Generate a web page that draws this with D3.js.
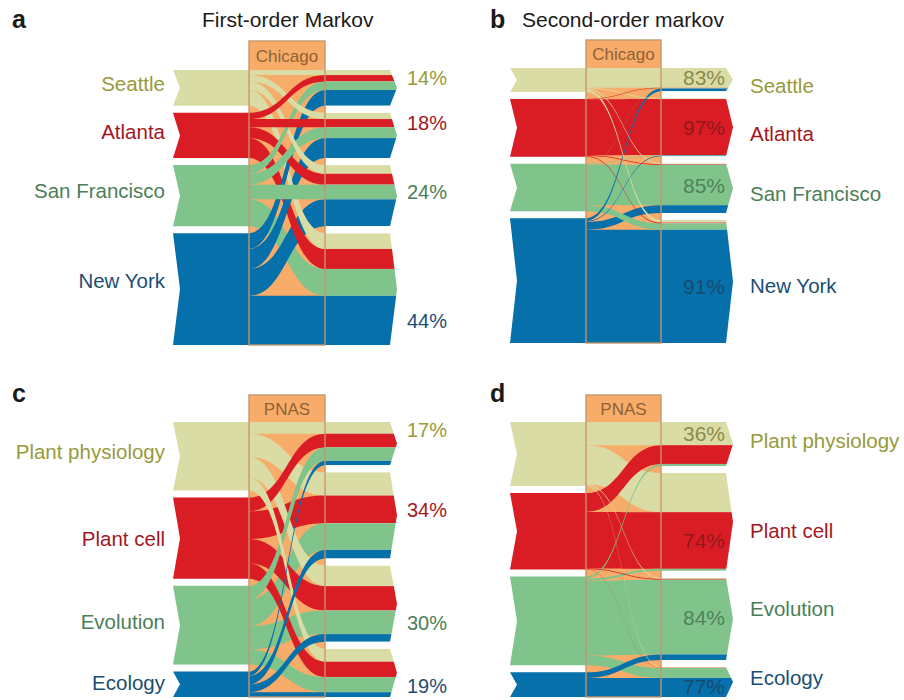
<!DOCTYPE html>
<html><head><meta charset="utf-8">
<script src="https://cdn.jsdelivr.net/npm/d3@7"></script>
<style>
body{margin:0;background:#fff}
svg{display:block;font-family:"Liberation Sans",Arial,Helvetica,sans-serif}
</style>
</head><body>
<svg id="chart" width="904" height="700"></svg>
<script>
// ---------------- DATA ----------------
const cityNames = ["Seattle", "Atlanta", "San Francisco", "New York"];
const journalNames = ["Plant physiology", "Plant cell", "Evolution", "Ecology"];
const hubCity = "Chicago";
const hubJournal = "PNAS";

// flow shares (% of all paths through the hub); rows = previous node, cols = next node
const flowsFirstCity = [
  [2.0, 2.5, 3.4, 6.2],
  [2.5, 3.2, 4.3, 7.9],
  [3.4, 4.3, 5.8, 10.6],
  [6.2, 7.9, 10.6, 19.4]
];
const flowsSecondCity = [
  [7.8, 0.3, 0.3, 1.0],
  [0.15, 22.0, 0.25, 0.3],
  [0.1, 0.2, 15.9, 2.5],
  [1.1, 0.3, 3.1, 44.5]
];
const flowsFirstJournal = [
  [4.6, 9.2, 8.1, 5.1],
  [5.4, 10.9, 9.6, 6.1],
  [5.3, 10.5, 9.3, 5.9],
  [1.7, 3.4, 3.0, 1.9]
];
const flowsSecondJournal = [
  [9.1, 15.4, 0.4, 0.3],
  [7.4, 22.3, 0.3, 0.1],
  [0.8, 0.8, 29.4, 3.9],
  [0.0, 0.0, 2.2, 7.5]
];
const returnLabelsA = ["14%", "18%", "24%", "44%"];
const returnLabelsB = ["83%", "97%", "85%", "91%"];
const returnLabelsC = ["17%", "34%", "30%", "19%"];
const returnLabelsD = ["36%", "74%", "84%", "77%"];

// ---------------- STYLE ----------------
const fillColors = ["#dadca6", "#da1d24", "#80c48c", "#0570a9"];
const textColors = ["#979a3a", "#a3161f", "#4b7e57", "#1b4e73"];
const innerTextColors = ["#7e8040", "#8a161b", "#4a7854", "#1a4767"];
const hubFill = "#f8ac6a";
const hubStroke = "#c4966e";

const panels = [
  {letter: "a", title: "First-order Markov", titleX: 202, hub: hubCity, names: cityNames, flows: flowsFirstCity,
   pct: returnLabelsA, xl: 173, xb0: 249, xb1: 325, y0: 70, headTop: 41, letterX: 12, letterY: 28,
   namesSide: "left", nudge: [-4, -4, -5, -8]},
  {letter: "b", title: "Second-order markov", titleX: 522, hub: hubCity, names: cityNames, flows: flowsSecondCity,
   pct: returnLabelsB, xl: 510, xb0: 586, xb1: 661, y0: 68, headTop: 40, letterX: 490, letterY: 28,
   namesSide: "right", nudge: [6, 6, 5, 4]},
  {letter: "c", title: "", hub: hubJournal, names: journalNames, flows: flowsFirstJournal,
   pct: returnLabelsC, xl: 173, xb0: 249, xb1: 325, y0: 422, headTop: 395, letterX: 12, letterY: 402,
   namesSide: "left", nudge: [-5, 0, -4, -2]},
  {letter: "d", title: "", hub: hubJournal, names: journalNames, flows: flowsSecondJournal,
   pct: returnLabelsD, xl: 510, xb0: 586, xb1: 661, y0: 422, headTop: 395, letterX: 490, letterY: 402,
   namesSide: "right", nudge: [-3, 9, -10, -4]}
];

const H = 254, GAP = 7, NOTCH = 7, ARROW_W = 65, TIP = 7;
const svg = d3.select("#chart");

panels.forEach((p, pi) => {
  const n = p.names.length;
  const rowSum = p.flows.map(r => d3.sum(r));
  const colSum = d3.range(n).map(j => d3.sum(p.flows, r => r[j]));
  const total = d3.sum(rowSum);
  const s = d3.scaleLinear().domain([0, total]).range([0, H]);
  const g = svg.append("g");

  const leftTop = [], rightTop = [];
  let accL = 0, accR = 0;
  for (let i = 0; i < n; i++) {
    leftTop.push(p.y0 + s(accL) + i * GAP); accL += rowSum[i];
    rightTop.push(p.y0 + s(accR) + i * GAP); accR += colSum[i];
  }
  const bottom = p.y0 + H + (n - 1) * GAP;

  // hub background
  g.append("rect").attr("x", p.xb0).attr("y", p.headTop).attr("width", p.xb1 - p.xb0)
    .attr("height", bottom - p.headTop).attr("fill", hubFill);

  // links
  const links = [];
  for (let i = 0; i < n; i++) for (let j = 0; j < n; j++) {
    const v = p.flows[i][j];
    if (v <= 0) continue;
    const lt = leftTop[i] + s(d3.sum(p.flows[i].slice(0, j)));
    const rt = rightTop[j] + s(d3.sum(p.flows.slice(0, i), r => r[j]));
    links.push({i, j, v, lt, rt, h: s(v)});
  }
  links.sort((a, b) => b.v - a.v);
  const xm = (p.xb0 + p.xb1) / 2;
  g.selectAll("path.link").data(links).enter().append("path")
    .attr("class", "link")
    .attr("fill", d => fillColors[d.i])
    .attr("d", d => {
      const x0 = p.xb0 - 0.5, x1 = p.xb1 + 0.5;
      const path = d3.path();
      path.moveTo(x0, d.lt);
      path.bezierCurveTo(xm, d.lt, xm, d.rt, x1, d.rt);
      path.lineTo(x1, d.rt + d.h);
      path.bezierCurveTo(xm, d.rt + d.h, xm, d.lt + d.h, x0, d.lt + d.h);
      path.closePath();
      return path.toString();
    });

  // left blocks (chevron tail)
  for (let i = 0; i < n; i++) {
    const t = leftTop[i], b = t + s(rowSum[i]);
    g.append("path").attr("fill", fillColors[i])
      .attr("d", `M${p.xl},${t}L${p.xb0},${t}L${p.xb0},${b}L${p.xl},${b}L${p.xl + NOTCH},${(t + b) / 2}Z`);
  }

  // right groups (arrows), sub-bands by origin
  const xe = p.xb1 + ARROW_W;
  for (let j = 0; j < n; j++) {
    const t = rightTop[j], b = t + s(colSum[j]);
    const cid = `clip${pi}_${j}`;
    g.append("clipPath").attr("id", cid).append("path")
      .attr("d", `M${p.xb1},${t}L${xe},${t}L${xe + TIP},${(t + b) / 2}L${xe},${b}L${p.xb1},${b}Z`);
    const gg = g.append("g").attr("clip-path", `url(#${cid})`);
    let acc = 0;
    for (let i = 0; i < n; i++) {
      const v = p.flows[i][j];
      if (v > 0) {
        gg.append("rect").attr("x", p.xb1).attr("y", t + s(acc)).attr("width", ARROW_W + TIP + 2)
          .attr("height", s(v)).attr("fill", fillColors[i]);
      }
      acc += v;
    }
  }

  // hub header + outline
  g.append("rect").attr("x", p.xb0).attr("y", p.headTop).attr("width", p.xb1 - p.xb0)
    .attr("height", p.y0 - p.headTop).attr("fill", hubFill);
  g.append("rect").attr("x", p.xb0).attr("y", p.headTop).attr("width", p.xb1 - p.xb0)
    .attr("height", bottom - p.headTop).attr("fill", "none").attr("stroke", hubStroke)
    .attr("stroke-width", 1.5).attr("stroke-opacity", 0.9);
  g.append("text").attr("x", xm).attr("y", (p.headTop + p.y0) / 2).attr("dy", "0.36em")
    .attr("text-anchor", "middle").attr("font-size", 17).attr("fill", "#8f6236").text(p.hub);

  // names
  for (let i = 0; i < n; i++) {
    let cy, x, anchor;
    if (p.namesSide === "left") {
      cy = leftTop[i] + s(rowSum[i]) / 2; x = p.xl - 8; anchor = "end";
    } else {
      cy = rightTop[i] + s(colSum[i]) / 2; x = xe + TIP + 17; anchor = "start";
    }
    g.append("text").attr("x", x).attr("y", cy + p.nudge[i]).attr("dy", "0.36em")
      .attr("text-anchor", anchor).attr("font-size", 20.5).attr("fill", textColors[i]).text(p.names[i]);
  }

  // return percentages at the self-return band
  for (let j = 0; j < n; j++) {
    const t = rightTop[j] + s(d3.sum(p.flows.slice(0, j), r => r[j]));
    let cy = Math.max(t + s(p.flows[j][j]) / 2, rightTop[j] + 8);
    cy = Math.min(cy, rightTop[j] + s(colSum[j]) - 6, 686);
    if (p.namesSide === "left") {
      g.append("text").attr("x", xe + TIP + 10).attr("y", cy).attr("dy", "0.36em")
        .attr("font-size", 20).attr("fill", textColors[j]).text(p.pct[j]);
    } else {
      g.append("text").attr("x", xe - 1).attr("y", cy).attr("dy", "0.36em").attr("text-anchor", "end")
        .attr("font-size", 21).attr("fill", innerTextColors[j]).attr("fill-opacity", 0.9).text(p.pct[j]);
    }
  }

  // panel letter and title
  svg.append("text").attr("x", p.letterX).attr("y", p.letterY).attr("font-size", 25)
    .attr("font-weight", "bold").attr("fill", "#1a1a1a").text(p.letter);
  if (p.title) {
    svg.append("text").attr("x", p.titleX).attr("y", 27).attr("font-size", 21)
      .attr("fill", "#1a1a1a").text(p.title);
  }
});
</script>
</body></html>
